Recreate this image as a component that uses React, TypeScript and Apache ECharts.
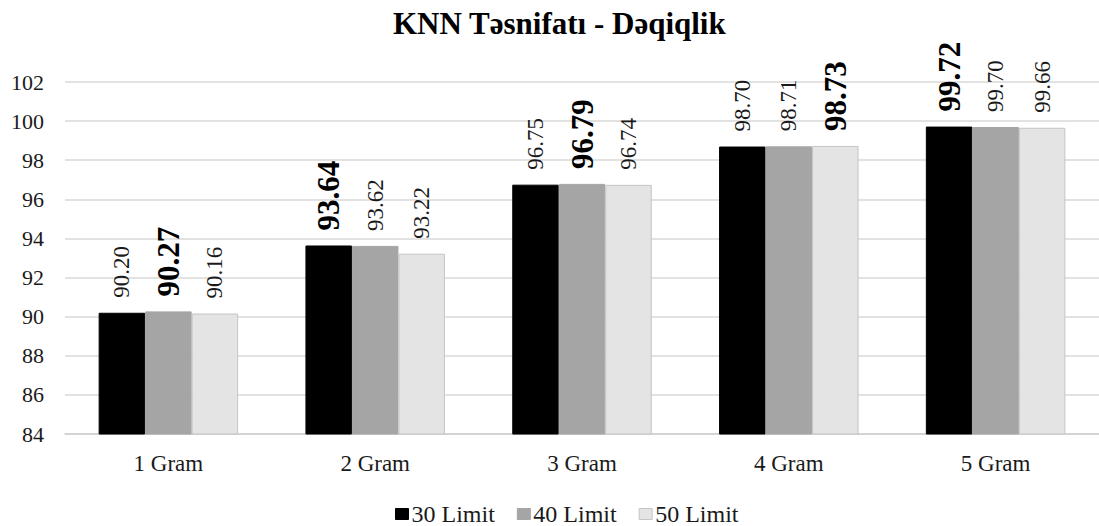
import React, { useEffect, useRef } from "react";
import * as echarts from "echarts";

const categories = ["1 Gram", "2 Gram", "3 Gram", "4 Gram", "5 Gram"];
const seriesNames = ["30 Limit", "40 Limit", "50 Limit"];
const limit30 = [90.2, 93.64, 96.75, 98.7, 99.72];
const limit40 = [90.27, 93.62, 96.79, 98.71, 99.7];
const limit50 = [90.16, 93.22, 96.74, 98.73, 99.66];
const yTicks = { min: 84, max: 102, interval: 2 };

const colors = ["#000000", "#a5a5a5", "#e4e4e4"];
const borders = ["#000000", "#a5a5a5", "#c4c4c4"];
const FONT = "'Liberation Serif', 'Times New Roman', serif";

export default function App() {
  const ref = useRef<HTMLDivElement>(null);
  useEffect(() => {
    if (!ref.current) return;
    const chart = echarts.init(ref.current, undefined, { renderer: "svg" });
    const all = [limit30, limit40, limit50];
    const maxes = categories.map((_, i) => Math.max(...all.map((s) => s[i])));
    const series = all.map((vals, si) => ({
      name: seriesNames[si],
      type: "bar",
      barWidth: 46.5,
      barGap: "0%",
      itemStyle: { color: colors[si], borderColor: borders[si], borderWidth: 1 },
      label: {
        show: true,
        position: "top",
        rotate: 90,
        align: "left",
        verticalAlign: "middle",
        distance: 15,
        fontFamily: FONT,
        fontSize: 23,
        color: "#1a1a1a",
        formatter: (p: any) => Number(p.value).toFixed(2),
      },
      data: vals.map((v, i) =>
        v === maxes[i]
          ? { value: v, label: { fontWeight: "bold", fontSize: 31, color: "#000" } }
          : { value: v }
      ),
    }));
    chart.setOption({
      animation: false,
      title: {
        text: "KNN Təsnifatı - Dəqiqlik",
        left: 388,
        top: 3,
        textStyle: { fontFamily: FONT, fontSize: 31, fontWeight: "bold", color: "#000" },
      },
      legend: {
        top: 497,
        left: 390,
        itemWidth: 13,
        itemHeight: 11,
        itemGap: 22,
        icon: "rect",
        textStyle: { fontFamily: FONT, fontSize: 24, color: "#1a1a1a", padding: [0, 0, 0, -2] },
        data: seriesNames.map((n, i) => ({
          name: n,
          itemStyle: { color: colors[i], borderColor: borders[i], borderWidth: 1 },
        })),
      },
      grid: { left: 65, top: 82, width: 1038, height: 352 },
      xAxis: {
        type: "category",
        data: categories,
        axisTick: { show: false },
        axisLine: { lineStyle: { color: "#cfcfcf", width: 1.5 } },
        axisLabel: { fontFamily: FONT, fontSize: 23, color: "#1a1a1a", margin: 18 },
      },
      yAxis: {
        type: "value",
        min: yTicks.min,
        max: yTicks.max,
        interval: yTicks.interval,
        axisLine: { show: false },
        axisTick: { show: false },
        splitLine: { lineStyle: { color: "#d9d9d9", width: 1.5 } },
        axisLabel: { fontFamily: FONT, fontSize: 22, color: "#1a1a1a", margin: 21 },
      },
      series,
    });
    return () => chart.dispose();
  }, []);
  return <div ref={ref} style={{ width: 1099, height: 526, position: "absolute", left: 0, top: 0 }} />;
}
